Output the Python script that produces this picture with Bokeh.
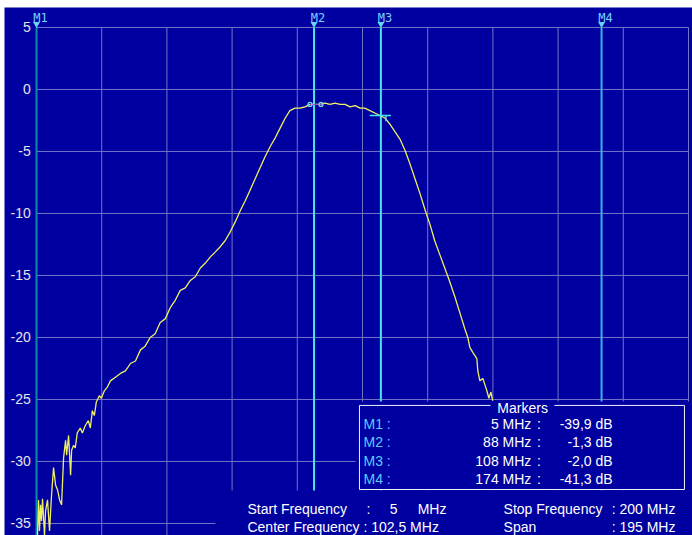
from bokeh.plotting import figure
from bokeh.models import Range1d
from bokeh.core.properties import value
from bokeh.embed import file_html
from bokeh.resources import INLINE

# ---------------- data ----------------
freq_mhz = [5.3, 5.6, 5.9, 6.2, 6.5, 6.8, 7.4, 7.7, 8.3, 8.9, 9.5, 10.1, 10.7, 11.3,
            11.9, 12.5, 13.1, 13.7, 14.0, 14.6, 15.2, 15.5, 16.1, 16.6, 17.2, 18.1,
            18.7, 19.6, 20.5, 21.1, 21.7, 22.3, 22.9, 23.8, 24.4, 25.3, 26.2, 27.1,
            28.6, 30.1, 31.6, 33.1, 34.6, 36.1, 37.5, 39.0, 40.5, 42.0, 43.5, 45.0,
            46.5, 48.0, 49.5, 51.0, 52.5, 54.0, 55.5, 57.0, 58.5, 59.9, 61.4, 62.9,
            64.4, 65.9, 67.4, 68.9, 70.4, 71.9, 73.4, 74.9, 76.4, 77.9, 79.4, 80.8,
            82.3, 83.8, 85.3, 86.8, 88.3, 89.8, 91.3, 92.8, 94.3, 95.8, 97.3, 98.8,
            100.3, 101.8, 103.2, 104.7, 106.2, 107.7, 109.2, 110.7, 112.2, 113.7,
            115.2, 116.7, 118.2, 119.7, 121.2, 122.7, 124.1, 125.6, 127.1, 128.6,
            130.1, 131.6, 133.1, 134.0, 134.6, 135.5, 136.7, 137.0, 137.6, 138.5,
            139.1, 139.7, 140.3, 140.9, 141.5]
level_db = [-36.0, -33.1, -35.6, -33.5, -34.8, -33.0, -36.0, -34.0, -33.1, -35.6, -32.7,
            -30.5, -31.9, -32.3, -33.1, -33.5, -29.7, -28.3, -29.5, -27.9, -31.1, -29.1,
            -28.7, -28.9, -27.7, -27.3, -27.7, -27.1, -26.7, -27.3, -25.9, -26.3, -25.2,
            -24.7, -24.9, -24.3, -24.0, -23.5, -23.2, -22.9, -22.7, -22.1, -21.9, -21.0,
            -20.7, -20.0, -19.7, -18.8, -18.5, -17.6, -17.0, -16.2, -16.0, -15.4, -15.1,
            -14.4, -14.0, -13.5, -13.1, -12.7, -12.2, -11.5, -10.7, -9.8, -9.0, -8.1,
            -7.2, -6.3, -5.4, -4.6, -3.9, -3.1, -2.3, -1.7, -1.5, -1.5, -1.4, -1.2,
            -1.2, -1.2, -1.1, -1.2, -1.1, -1.2, -1.2, -1.4, -1.3, -1.5, -1.5, -1.7,
            -1.9, -2.1, -2.3, -2.8, -3.4, -4.0, -4.9, -6.0, -7.2, -8.4, -9.7, -10.9,
            -12.2, -13.3, -14.4, -15.5, -16.7, -18.0, -19.3, -20.0, -20.8, -21.2, -21.7,
            -22.7, -23.5, -23.3, -23.8, -24.3, -24.9, -24.4, -25.2]

marker_names = ["M1", "M2", "M3", "M4"]
marker_freq = [5, 88, 108, 174]
marker_db = [-39.9, -1.3, -2.0, -41.3]
marker_colors = ["#0A8CA8", "#44E6F2", "#44E6F2", "#3FB0E4"]

x_grid = [5, 24.5, 44, 63.5, 83, 102.5, 122, 141.5, 161, 180.5, 200]
y_ticks = [5, 0, -5, -10, -15, -20, -25, -30, -35]
y_tick_labels = ["5", "0", "-5", "-10", "-15", "-20", "-25", "-30", "-35"]

start_freq = 5
stop_freq = 200
center_freq = 102.5
span_freq = 195

# ---------------- style ----------------
BG = "#0000A0"
GRID = "#7474C6"
TRACE = "#F0F064"
FONT = value("Liberation Sans")

p = figure(width=692, height=535, output_backend="svg", toolbar_location=None,
           x_range=Range1d(-4.57, 201.2), y_range=Range1d(-35.97, 6.61),
           x_axis_location=None, y_axis_location=None,
           min_border_left=4, min_border_right=0, min_border_top=7, min_border_bottom=0,
           background_fill_color=BG, border_fill_color="white", outline_line_color=None)
p.grid.visible = False

txt = dict(text_font=FONT, text_font_size="14px", text_baseline="middle")

# y tick labels
p.text(x=[3.3] * len(y_ticks), y=y_ticks, text=y_tick_labels, text_color="#E4E4EC",
       text_align="right", **txt)

# grid
p.segment(x0=x_grid, y0=[y_ticks[0]] * len(x_grid), x1=x_grid, y1=[-37] * len(x_grid),
          line_color=GRID, line_width=1)
p.segment(x0=[x_grid[0]] * len(y_ticks), y0=y_ticks, x1=[x_grid[-1]] * len(y_ticks), y1=y_ticks,
          line_color=GRID, line_width=1)

# marker lines
p.segment(x0=marker_freq, y0=[y_ticks[0]] * 4, x1=marker_freq, y1=[-37] * 4,
          line_color=marker_colors, line_width=2)

# trace
p.line(freq_mhz, level_db, line_color=TRACE, line_width=1.3)

# small marker readouts on trace (M2 pair, M3 tee)
p.line([86.8, 90.1], [-1.21, -1.21], line_color="#C040C0", line_width=1)
p.scatter([86.8, 90.1], [-1.21, -1.21], marker="circle", size=4, fill_color=None,
          line_color="#6FE0F0", line_width=1.2)
p.segment(x0=[104.7, 109.5], y0=[-2.1, -2.1], x1=[111.0, 109.5], y1=[-2.1, -2.55],
          line_color="#44E6F2", line_width=1.5)

# boxes covering the plot
p.quad(left=[100.4, 58.5], right=[202, 202], top=[-25.16, -32.34], bottom=[-32.34, -37],
       fill_color=BG, line_color=None)
p.quad(left=[101.6], right=[198.8], top=[-25.48], bottom=[-32.26],
       fill_color=None, line_color="#F0F0F8", line_width=1)
p.quad(left=[140.8], right=[159.9], top=[-25.1], bottom=[-25.9], fill_color=BG, line_color=None)

p.text(x=[150.4], y=[-25.65], text=["Markers"], text_color="white", text_align="center", **txt)

row_y = [-26.97, -28.45, -29.97, -31.45]
p.text(x=[102.8] * 4, y=row_y, text=[f"{n} :" for n in marker_names], text_color="#5CCCFF",
       text_align="left", **txt)
p.text(x=[153.0] * 4, y=row_y, text=[f"{f:g} MHz" for f in marker_freq], text_color="white",
       text_align="right", **txt)
p.text(x=[155.3] * 4, y=row_y, text=[":"] * 4, text_color="white", text_align="center", **txt)
p.text(x=[177.3] * 4, y=row_y, text=[f"{d:.1f}".replace(".", ",") + " dB" for d in marker_db],
       text_color="white", text_align="right", **txt)

# bottom info
r1, r2 = -33.87, -35.32
p.text(x=[68.1, 104.3, 111.8, 119.0], y=[r1] * 4,
       text=["Start Frequency", ":", f"{start_freq:g}", "MHz"], text_color="white",
       text_align=["left", "center", "center", "left"], **txt)
p.text(x=[68.1], y=[r2], text=[f"Center Frequency : {center_freq:g} MHz".replace(".", ",")],
       text_color="white", text_align="left", **txt)
p.text(x=[144.7, 144.7], y=[r1, r2], text=["Stop Frequency", "Span"], text_color="white",
       text_align="left", **txt)
p.text(x=[196.1, 196.1], y=[r1, r2], text=[f": {stop_freq:g} MHz", f": {span_freq:g} MHz"],
       text_color="white", text_align="right", **txt)

# marker flags on top
p.scatter(marker_freq, [5.28] * 4, marker="inverted_triangle", size=7,
          fill_color="#66D6F6", line_color=None)
p.text(x=marker_freq, y=[5.8] * 4, text=marker_names, text_color="#76D4FF",
       text_font=value("DejaVu Sans Mono"), text_font_size="12px", text_align="center",
       text_baseline="middle", x_offset=4)

open("out.html", "w").write(file_html(p, INLINE))
